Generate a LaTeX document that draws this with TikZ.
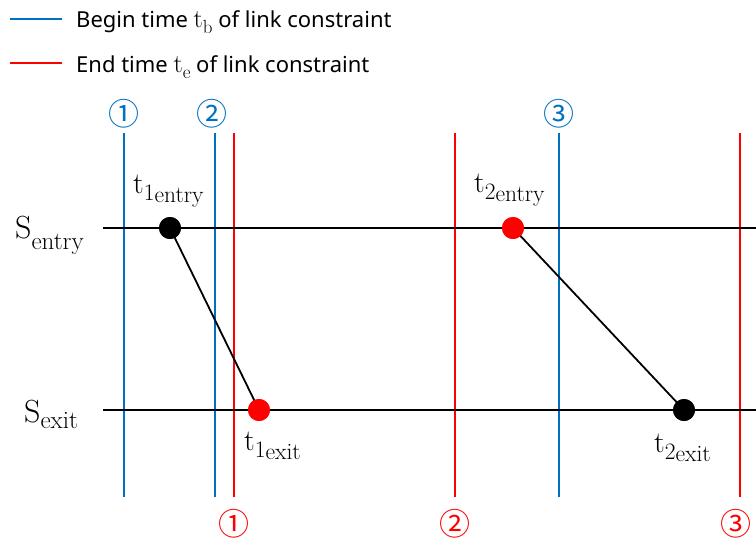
\documentclass[tikz,border=0pt]{standalone}
\usepackage{fontspec}
\newfontfamily\legfont{Noto Sans}
\newfontfamily\cjkfont{Noto Sans CJK SC}
\definecolor{lblue}{RGB}{0,112,192}
\definecolor{lred}{RGB}{255,0,0}
\newcommand\fsz[1]{\fontsize{#1}{#1}\selectfont}
% t with two-level subscript
\newcommand\tlab[2]{{\fsz{30}t}\raisebox{-7pt}{\fsz{23.5}#1}\raisebox{-9pt}{\fsz{23.5}#2}}
\tikzset{
  bline/.style={draw=lblue, line width=1.5pt},
  rline/.style={draw=lred, line width=1.5pt},
  axis/.style={draw=black, line width=2.2pt},
  conn/.style={draw=black, line width=1.8pt},
  dotb/.style={circle, fill=black, inner sep=0pt, minimum size=22pt},
  dotr/.style={circle, fill=lred, inner sep=0pt, minimum size=22pt},
  leg/.style={anchor=base west, inner sep=0pt, font=\legfont\fsz{22}},
  mlab/.style={anchor=base west, inner sep=0pt, font=\rmfamily},
  numb/.style={inner sep=0pt, text=lblue, font=\cjkfont\fsz{31}},
  numr/.style={inner sep=0pt, text=lred, font=\cjkfont\fsz{31}}
}
\begin{document}
\begin{tikzpicture}[x=1pt,y=-1pt]
\useasboundingbox (0,0) rectangle (756,539);
% legend
\coordinate (lb1) at (10,19); \coordinate (lb2) at (62,19);
\coordinate (lr1) at (10,63); \coordinate (lr2) at (62,63);
\draw[bline] (lb1) -- (lb2);
\draw[rline] (lr1) -- (lr2);
\node[leg] (legb) at (76,27) {Begin time {\rmfamily\fsz{26}t}\raisebox{-6pt}{\rmfamily\fsz{19}b} of link constraint};
\node[leg] (legr) at (76,72) {End time {\rmfamily\fsz{26}t}\raisebox{-6pt}{\rmfamily\fsz{19}e} of link constraint};
% vertical lines
\foreach \x/\n in {124/b1,215/b2,559/b3}{
  \coordinate (\n t) at (\x,133); \coordinate (\n b) at (\x,497);
  \draw[bline] (\n t) -- (\n b);
}
\foreach \x/\n in {234/r1,455/r2,740/r3}{
  \coordinate (\n t) at (\x,133); \coordinate (\n b) at (\x,497);
  \draw[rline] (\n t) -- (\n b);
}
\node[numb] (nb1) at (124,114) {①};
\node[numb] (nb2) at (212,114) {②};
\node[numb] (nb3) at (559,114) {③};
\node[numr] (nr1) at (234,523.5) {①};
\node[numr] (nr2) at (455,523.5) {②};
\node[numr] (nr3) at (736,523.5) {③};
% horizontal axes
\coordinate (ea) at (103,228); \coordinate (eb) at (756,228);
\coordinate (xa) at (103,410); \coordinate (xb) at (756,410);
\draw[axis] (ea) -- (eb);
\draw[axis] (xa) -- (xb);
\node[mlab] (sen) at (15,238) {{\fsz{32}S}\raisebox{-11pt}{\fsz{25}entry}};
\node[mlab] (sex) at (24,422) {{\fsz{32}S}\raisebox{-6pt}{\fsz{25}exit}};
% points
\node[dotb] (p1) at (170,228) {};
\node[dotr] (p2) at (259,410) {};
\node[dotr] (p3) at (513,228) {};
\node[dotb] (p4) at (684,410) {};
\draw[conn] (p1.center) -- (p2.center);
\draw[conn] (p3.center) -- (p4.center);
\node[dotb] at (p1) {};
\node[dotr] at (p2) {};
\node[dotr] at (p3) {};
\node[dotb] at (p4) {};
\node[mlab] (l1) at (133,193) {\tlab{1}{entry}};
\node[mlab] (l2) at (244,450) {\tlab{1}{exit}};
\node[mlab] (l3) at (474,192) {\tlab{2}{entry}};
\node[mlab] (l4) at (654,452) {\tlab{2}{exit}};
\end{tikzpicture}
\end{document}
